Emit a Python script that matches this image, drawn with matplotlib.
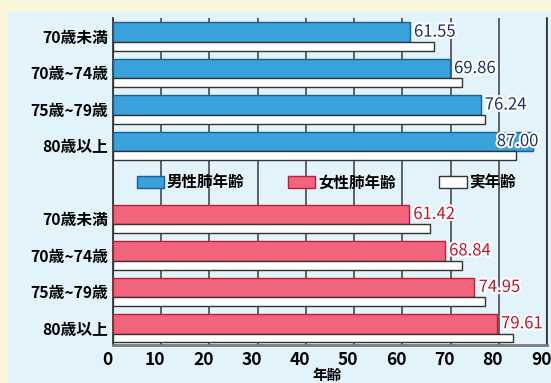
import matplotlib
matplotlib.use('Agg')
import matplotlib.pyplot as plt
import matplotlib.patches as mpatches
import matplotlib.patheffects as pe
import matplotlib.transforms as mtransforms
import numpy as np

plt.rcParams['font.family'] = ['Noto Sans CJK JP', 'DejaVu Sans']

# ---- data ----
categories = ['70歳未満', '70歳~74歳', '75歳~79歳', '80歳以上']
male_lung_age = [61.55, 69.86, 76.24, 87.00]
male_real_age = [66.5, 72.3, 77.1, 83.6]
female_lung_age = [61.42, 68.84, 74.95, 79.61]
female_real_age = [65.8, 72.3, 77.2, 83.0]
x_ticks = [0, 10, 20, 30, 40, 50, 60, 70, 80, 90]
legend_labels = ['男性肺年齢', '女性肺年齢', '実年齢']
x_label = '年齢'

# ---- styles ----
W, H = 551, 383
blue, blue_e = '#3aa2da', '#1b5f97'
red, red_e = '#f2647c', '#b8213a'
white_e = '#333333'
panel = '#e3f3fb'
cream = '#faf6da'

fig = plt.figure(figsize=(W / 100, H / 100), dpi=100)
fig.patch.set_facecolor(cream)
fig.add_artist(mpatches.Rectangle((8 / W, 0), 1, (H - 12) / H, transform=fig.transFigure,
                                  facecolor=panel, edgecolor='none', zorder=-5))

ax = fig.add_axes([113 / W, 38 / H, 434 / W, (345 - 18.3) / H])
ax.set_facecolor(panel)

h_col, h_white = 0.54, 0.24
off_col, off_white = -0.12, 0.27
ypos_m = np.arange(len(categories))
ypos_f = np.arange(len(categories)) + len(categories) + 1

groups = [(ypos_m, male_lung_age, male_real_age, blue, blue_e, '#1c2f6e'),
          (ypos_f, female_lung_age, female_real_age, red, red_e, '#c0152f')]

for ypos, lung, real, fc, ec, tc in groups:
    ax.barh(ypos + off_col, lung, height=h_col, color=fc, edgecolor=ec, linewidth=1.0, zorder=3)
    ax.barh(ypos + off_white, real, height=h_white, color='white', edgecolor=white_e,
            linewidth=1.0, zorder=3)
    for v, y in zip(lung, ypos):
        if v > 85:
            xt, ha = (4.5, 0), 'right'
        else:
            xt, ha = (3, 0), 'left'
        ax.annotate(f'{v:.2f}', xy=(v, y + off_col), xytext=xt, textcoords='offset points',
                    ha=ha, va='center', fontsize=12, color=tc, zorder=5,
                    path_effects=[pe.withStroke(linewidth=3, foreground='white')])

ax.set_xlim(0, 90)
ax.set_ylim(ypos_f[-1] + 0.46, -0.5)
ax.set_xticks(x_ticks)
ax.set_xticklabels([str(t) for t in x_ticks])
ax.set_yticks(list(ypos_m) + list(ypos_f))
ax.set_yticklabels(categories + categories)
ax.grid(axis='x', color='#3a3a3a', linewidth=1.1, zorder=0)
ax.grid(axis='y', visible=False)
ax.set_axisbelow(True)

ax.tick_params(axis='x', length=0, pad=4, labelsize=12.5)
ax.tick_params(axis='y', length=0, pad=3.6, labelsize=11.3)
shift = mtransforms.ScaledTranslation(-6 / 100, 0, fig.dpi_scale_trans)
for lab in ax.get_xticklabels():
    lab.set_fontweight('bold')
    lab.set_transform(lab.get_transform() + shift)
for lab in ax.get_yticklabels():
    lab.set_fontweight('bold')

ax.spines['top'].set_visible(False)
ax.spines['left'].set_color('#2a2a2a')
ax.spines['left'].set_linewidth(1.2)
ax.spines['right'].set_color('#2a2a2a')
ax.spines['right'].set_linewidth(1.2)
ax.spines['bottom'].set_color('#7a7a7a')
ax.spines['bottom'].set_linewidth(2.0)

handles = [mpatches.Patch(facecolor=blue, edgecolor=blue_e, linewidth=1.0),
           mpatches.Patch(facecolor=red, edgecolor=red_e, linewidth=1.0),
           mpatches.Patch(facecolor='white', edgecolor=white_e, linewidth=1.0)]
leg = ax.legend(handles, legend_labels, ncol=3, loc='center left',
                bbox_to_anchor=(4.9, len(categories)), bbox_transform=ax.transData,
                frameon=False, fontsize=11.2, handlelength=1.75, handleheight=0.75,
                handletextpad=0.2, columnspacing=2.8, borderpad=0, borderaxespad=0)
for t in leg.get_texts():
    t.set_fontweight('bold')

fig.text(327 / W, 1 - 374.5 / H, x_label, ha='center', va='center', fontsize=10.5,
         fontweight='bold')

fig.savefig('out.png', dpi=100, facecolor=fig.get_facecolor())
